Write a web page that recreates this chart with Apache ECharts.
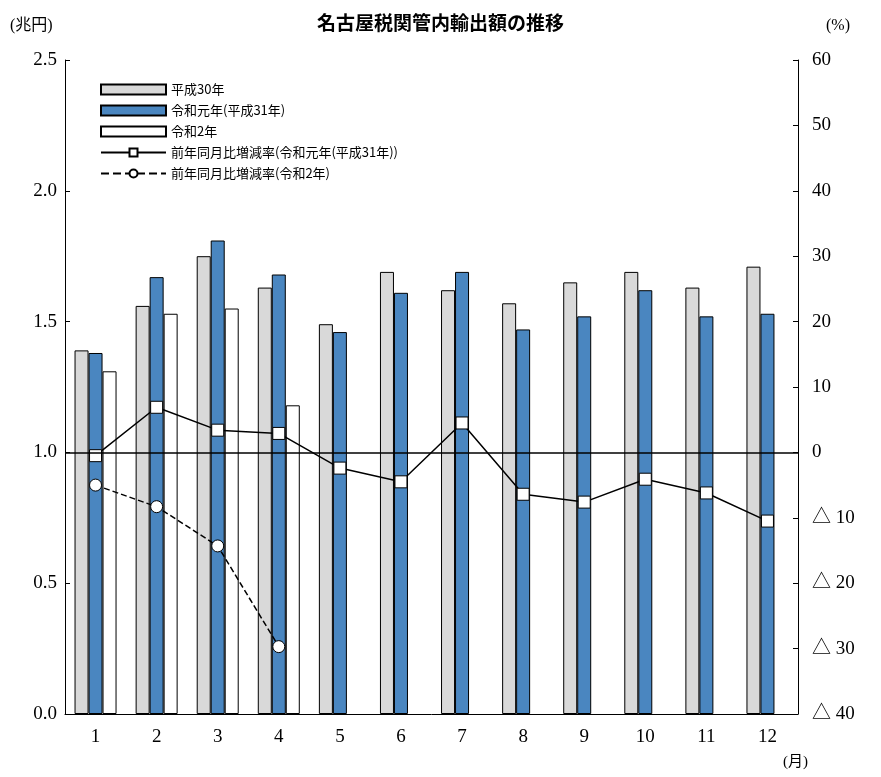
<!DOCTYPE html>
<html>
<head>
<meta charset="utf-8">
<script src="https://cdn.jsdelivr.net/npm/echarts@6/dist/echarts.min.js"></script>
<style>
html, body { margin: 0; padding: 0; background: #fff; }
#main { width: 881px; height: 777px; }
</style>
</head>
<body>
<div id="main"></div>
<script>
// 月
var months = ['1', '2', '3', '4', '5', '6', '7', '8', '9', '10', '11', '12'];
// 輸出額（兆円）
var h30 = [1.39, 1.56, 1.75, 1.63, 1.49, 1.69, 1.62, 1.57, 1.65, 1.69, 1.63, 1.71];
var r1 = [1.38, 1.67, 1.81, 1.68, 1.46, 1.61, 1.69, 1.47, 1.52, 1.62, 1.52, 1.53];
var r2 = [1.31, 1.53, 1.55, 1.18];
// 前年同月比増減率（%）
var rateR1 = [-0.5, 6.9, 3.4, 2.9, -2.4, -4.5, 4.5, -6.4, -7.6, -4.1, -6.2, -10.5];
var rateR2 = [-5.0, -8.3, -14.3, -29.7];

var font = "'Liberation Serif', 'Noto Sans CJK JP', serif";
var chart = echarts.init(document.getElementById('main'));

var option = {
    animation: false,
    textStyle: { fontFamily: font, color: '#000' },
    title: {
        text: '名古屋税関管内輸出額の推移',
        left: 'center',
        top: 8,
        textStyle: { fontFamily: "'Noto Sans CJK JP', sans-serif", fontSize: 19, fontWeight: 'bold', color: '#000' }
    },
    graphic: [
        { type: 'text', left: 10, top: 18, style: { text: '(兆円)', font: '16px ' + font, fill: '#000' } },
        { type: 'text', left: 826, top: 18, style: { text: '(%)', font: '16px ' + font, fill: '#000' } },
        { type: 'text', left: 783, top: 755, style: { text: '(月)', font: '15px ' + font, fill: '#000' } }
    ],
    legend: {
        orient: 'vertical',
        left: 95,
        top: 78,
        itemGap: 8,
        itemWidth: 65,
        itemHeight: 10,
        textStyle: { fontFamily: "'Noto Sans CJK JP', sans-serif", fontSize: 13, color: '#000' },
        data: [
            { name: '平成30年', icon: 'rect' },
            { name: '令和元年(平成31年)', icon: 'rect' },
            { name: '令和2年', icon: 'rect' },
            '前年同月比増減率(令和元年(平成31年))',
            '前年同月比増減率(令和2年)'
        ]
    },
    grid: { left: 65, right: 83, top: 60, bottom: 63 },
    xAxis: {
        type: 'category',
        data: months,
        axisLine: { lineStyle: { color: '#000' } },
        axisTick: { show: false },
        axisLabel: { fontSize: 19, color: '#000', margin: 14 }
    },
    yAxis: [{
        type: 'value',
        min: 0, max: 2.5, interval: 0.5,
        splitLine: { show: false },
        axisLine: { show: true, lineStyle: { color: '#000' } },
        axisTick: { show: true, inside: true, length: 5 },
        axisLabel: { fontSize: 19, color: '#000', formatter: function (v) { return v.toFixed(1); } }
    }, {
        type: 'value',
        min: -40, max: 60, interval: 10,
        splitLine: { show: false },
        axisLine: { show: true, lineStyle: { color: '#000' } },
        axisTick: { show: true, inside: true, length: 5 },
        axisLabel: {
            fontSize: 19, color: '#000', margin: 14,
            formatter: function (v) { return v < 0 ? '△ ' + (-v) : String(v); }
        }
    }],
    series: [{
        name: '平成30年',
        type: 'bar',
        data: h30,
        barWidth: 14,
        barGap: '0%',
        itemStyle: { color: '#d9d9d9', borderColor: '#000', borderWidth: 1 },
        markLine: {
            silent: true, symbol: 'none', label: { show: false },
            lineStyle: { color: '#000', type: 'solid', width: 1.5 },
            data: [{ yAxis: 1.0 }]
        }
    }, {
        name: '令和元年(平成31年)',
        type: 'bar',
        data: r1,
        barWidth: 14,
        itemStyle: { color: '#4a86c0', borderColor: '#000', borderWidth: 1 }
    }, {
        name: '令和2年',
        type: 'bar',
        data: r2,
        barWidth: 14,
        itemStyle: { color: '#fff', borderColor: '#000', borderWidth: 1 }
    }, {
        name: '前年同月比増減率(令和元年(平成31年))',
        type: 'line',
        yAxisIndex: 1,
        data: rateR1,
        symbol: 'rect',
        symbolSize: 12,
        lineStyle: { color: '#000', width: 1.5 },
        itemStyle: { color: '#fff', borderColor: '#000', borderWidth: 1 }
    }, {
        name: '前年同月比増減率(令和2年)',
        type: 'line',
        yAxisIndex: 1,
        data: rateR2,
        symbol: 'circle',
        symbolSize: 12,
        lineStyle: { color: '#000', width: 1.5, type: 'dashed' },
        itemStyle: { color: '#fff', borderColor: '#000', borderWidth: 1 }
    }]
};
chart.setOption(option);
</script>
</body>
</html>
